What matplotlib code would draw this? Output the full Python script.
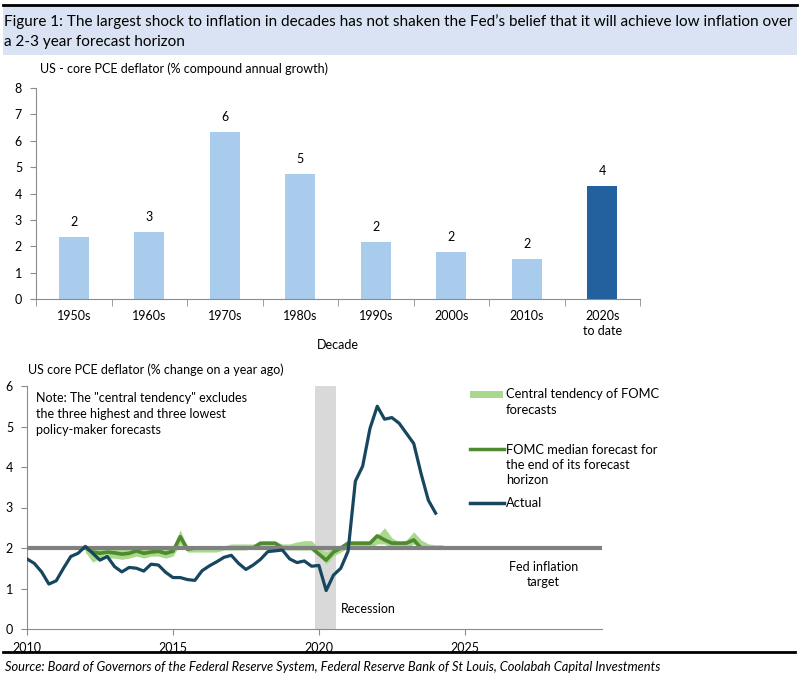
import matplotlib
matplotlib.use("Agg")
import matplotlib.pyplot as plt
import matplotlib.patches as patches
from matplotlib.lines import Line2D
import numpy as np

plt.rcParams['font.family'] = ['Lato', 'DejaVu Sans']

# top chart data (decades, % compound annual growth)
decades = ['1950s', '1960s', '1970s', '1980s', '1990s', '2000s', '2010s', '2020s\nto date']
decade_growth = [2.35, 2.54, 6.33, 4.73, 2.16, 1.78, 1.52, 4.29]

# bottom chart data, quarterly
actual_start = 2010.0
actual = [1.73, 1.62, 1.41, 1.11, 1.19, 1.50, 1.79, 1.87,
          2.04, 1.87, 1.70, 1.79, 1.54, 1.41, 1.52, 1.50,
          1.43, 1.60, 1.58, 1.40, 1.27, 1.27, 1.22, 1.20,
          1.44, 1.56, 1.66, 1.77, 1.82, 1.62, 1.47, 1.58,
          1.72, 1.91, 1.93, 1.95, 1.73, 1.64, 1.68, 1.55,
          1.57, 0.95, 1.33, 1.50, 1.92, 3.65, 4.02, 4.95,
          5.50, 5.18, 5.22, 5.08, 4.83, 4.58, 3.84, 3.18,
          2.86]

fomc_start = 2012.0
fomc_median = [2.0, 1.9, 1.87, 1.9, 1.88, 1.85, 1.87, 1.93,
               1.87, 1.9, 1.92, 1.87, 1.92, 2.28, 1.97, 2.0,
               2.0, 2.0, 2.0, 2.0, 2.0, 2.0, 2.0, 2.0,
               2.12, 2.12, 2.12, 2.0, 2.0, 2.0, 2.0, 2.0,
               1.85, 1.7, 1.9, 2.0, 2.12, 2.12, 2.12, 2.12,
               2.3, 2.2, 2.12, 2.12, 2.12, 2.2, 2.0, 2.0,
               2.0, 2.0]
fomc_low = [1.9, 1.65, 1.75, 1.75, 1.75, 1.72, 1.75, 1.8,
            1.75, 1.8, 1.8, 1.75, 1.8, 2.1, 1.9, 1.9,
            1.9, 1.9, 1.9, 1.95, 1.95, 1.95, 1.95, 2.0,
            2.0, 2.0, 2.0, 1.95, 1.95, 1.95, 1.95, 1.95,
            1.8, 1.6, 1.8, 1.9, 2.0, 2.0, 2.0, 2.0,
            2.1, 2.1, 2.0, 2.0, 2.0, 2.1, 2.0, 2.0,
            2.0, 2.0]
fomc_high = [2.0, 2.0, 2.0, 2.0, 2.0, 2.0, 2.0, 2.0,
             2.0, 2.0, 2.0, 2.0, 2.0, 2.45, 2.0, 2.0,
             2.0, 2.0, 2.0, 2.05, 2.1, 2.1, 2.1, 2.1,
             2.16, 2.16, 2.16, 2.1, 2.1, 2.15, 2.18, 2.18,
             2.0, 1.9, 2.0, 2.05, 2.1, 2.15, 2.15, 2.15,
             2.3, 2.5, 2.25, 2.15, 2.2, 2.4, 2.2, 2.1,
             2.08, 2.08]
fed_target = 2.0
recession = (2019.85, 2020.58)

x_actual = actual_start + np.arange(len(actual)) * 0.25
x_fomc = fomc_start + np.arange(len(fomc_median)) * 0.25

light_bar = '#A9CBEC'
dark_bar = '#22609E'
spine_col = '#8C8C8C'
actual_col = '#17465F'
median_col = '#4E8A2E'
band_col = '#A9D88E'
fs = 9

fig = plt.figure(figsize=(8, 6.82), dpi=100)

# header band and rules
fig.patches.append(patches.Rectangle((0.004, 1 - 55 / 682), 0.992, 50 / 682, transform=fig.transFigure,
                                     facecolor='#DAE3F3', edgecolor='none', zorder=0))
fig.add_artist(Line2D([0.004, 0.996], [1 - 5 / 682, 1 - 5 / 682], color='black', lw=2))
fig.add_artist(Line2D([0.004, 0.994], [1 - 652 / 682, 1 - 652 / 682], color='black', lw=2))
fig.text(0.005, 1 - 22 / 682, "Figure 1: The largest shock to inflation in decades has not shaken the Fed\u2019s belief that it will achieve low inflation over",
         fontsize=10.95, va='center', ha='left')
fig.text(0.005, 1 - 42 / 682, "a 2-3 year forecast horizon", fontsize=10.95, va='center', ha='left')
fig.text(0.006, 1 - 667 / 682, "Source: Board of Governors of the Federal Reserve System, Federal Reserve Bank of St Louis, Coolabah Capital Investments",
         fontsize=9.3, style='italic', va='center', ha='left')

# ---- top chart: bars by decade
ax1 = fig.add_axes([36 / 800, 1 - 299 / 682, 604 / 800, 211 / 682])
xpos = np.arange(len(decades))
colors = [light_bar] * (len(decades) - 1) + [dark_bar]
ax1.bar(xpos, decade_growth, width=0.4, color=colors)
for i, v in enumerate(decade_growth):
    ax1.text(i, v + 0.35, f"{round(v):d}", ha='center', va='bottom', fontsize=fs)
ax1.set_xlim(-0.5, len(decades) - 0.5)
ax1.set_ylim(0, 8)
ax1.set_yticks(range(0, 9))
ax1.set_xticks(xpos)
ax1.set_xticklabels(decades, fontsize=fs, linespacing=1.3)
ax1.set_xticks(np.arange(-0.5, len(decades), 1.0), minor=True)
ax1.tick_params(axis='x', which='major', length=0, pad=8)
ax1.tick_params(axis='x', which='minor', length=5, color=spine_col, direction='out')
ax1.tick_params(axis='y', length=4, color=spine_col, labelsize=fs, pad=6)
for s in ['top', 'right']:
    ax1.spines[s].set_visible(False)
for s in ['left', 'bottom']:
    ax1.spines[s].set_color(spine_col)
ax1.set_xlabel('Decade', fontsize=fs, labelpad=1)
fig.text(40 / 800, 1 - 69 / 682, "US - core PCE deflator (% compound annual growth)", fontsize=fs, va='center')

# ---- bottom chart: lines
ax2 = fig.add_axes([27 / 800, 1 - 629 / 682, 575 / 800, 243 / 682])
ax2.axvspan(recession[0], recession[1], color='#D9D9D9', lw=0, zorder=0)
ax2.fill_between(x_fomc, fomc_low, fomc_high, color=band_col, lw=0, zorder=1)
ax2.plot(x_fomc, fomc_median, color=median_col, lw=2.6, zorder=2)
ax2.axhline(fed_target, color='#808080', lw=3, zorder=3)
ax2.plot(x_actual, actual, color=actual_col, lw=2.3, zorder=4)
ax2.set_xlim(2010, 2029.7)
ax2.set_ylim(0, 6)
ax2.set_yticks(range(0, 7))
ax2.set_xticks([2010, 2015, 2020, 2025])
ax2.tick_params(axis='x', length=4, color=spine_col, labelsize=fs, pad=5)
ax2.tick_params(axis='y', length=4, color=spine_col, labelsize=fs, pad=6)
for s in ['top', 'right']:
    ax2.spines[s].set_visible(False)
for s in ['left', 'bottom']:
    ax2.spines[s].set_color(spine_col)
fig.text(28 / 800, 1 - 370 / 682, "US core PCE deflator (% change on a year ago)", fontsize=fs, va='center')
fig.text(36 / 800, 1 - 414 / 682, 'Note: The "central tendency" excludes\nthe three highest and three lowest\npolicy-maker forecasts',
         fontsize=fs, va='center', linespacing=1.35)
ax2.text(2021.7, 0.5, "Recession", fontsize=fs, ha='center', va='center')
ax2.text(2027.7, 1.35, "Fed inflation\ntarget", fontsize=fs, ha='center', va='center', linespacing=1.35)

# legend drawn by hand beside the chart
fig.patches.append(patches.Rectangle((470 / 800, 1 - 398 / 682), 33 / 800, 7 / 682, transform=fig.transFigure,
                                     facecolor=band_col, edgecolor='none'))
fig.text(506 / 800, 1 - 402 / 682, "Central tendency of FOMC\nforecasts", fontsize=9.3, va='center', linespacing=1.35)
fig.add_artist(Line2D([470 / 800, 504 / 800], [1 - 449 / 682, 1 - 449 / 682], color=median_col, lw=2.5))
fig.text(506 / 800, 1 - 465 / 682, "FOMC median forecast for\nthe end of its forecast\nhorizon", fontsize=9.3, va='center', linespacing=1.35)
fig.add_artist(Line2D([470 / 800, 504 / 800], [1 - 503 / 682, 1 - 503 / 682], color=actual_col, lw=2.5))
fig.text(506 / 800, 1 - 503 / 682, "Actual", fontsize=9.3, va='center')

fig.savefig('out.png', dpi=100)
